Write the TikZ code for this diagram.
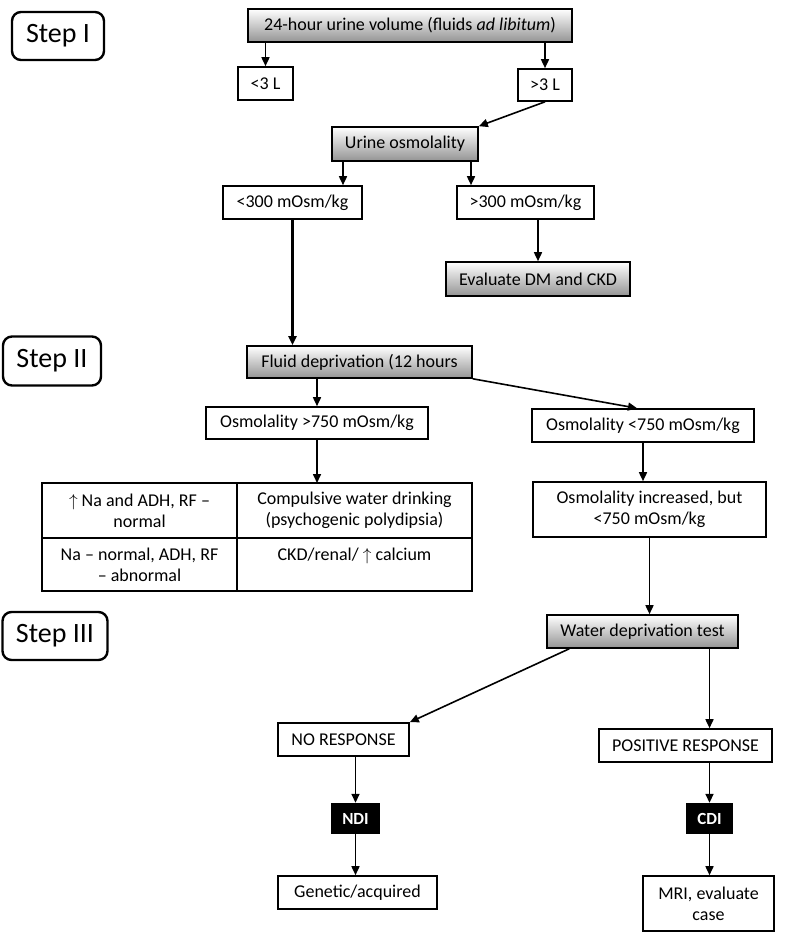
\documentclass[tikz,border=0pt]{standalone}
\usepackage{fontspec}
\setmainfont{Carlito}
\usetikzlibrary{arrows.meta, positioning, calc}

\begin{document}
\begin{tikzpicture}[x=1pt, y=-1pt, >={Triangle[length=9pt, width=8pt]},
    font=\fontsize{18}{21}\selectfont,
    stepbox/.style={rectangle, draw, line width=2.4pt, rounded corners=9pt,
                    font=\fontsize{28}{32}\selectfont, inner sep=0pt},
    whitebox/.style={rectangle, draw, line width=1.6pt, fill=white,
                     inner sep=0pt, align=center},
    graybox/.style={whitebox, top color=white, bottom color=black!42},
    blackbox/.style={rectangle, fill=black, text=white, inner sep=0pt,
                     font=\fontsize{17}{19}\selectfont\bfseries},
    cell/.style={rectangle, draw, line width=1.6pt, inner sep=0pt,
                 outer sep=0pt, align=center},
    arr/.style={->, line width=1.6pt}]

\useasboundingbox (0,0) rectangle (788,941);

% ════════════════════════════════════════
%  Step labels
% ════════════════════════════════════════

\node[stepbox, minimum width=92, minimum height=48] (step1) at (58,36) {Step I};
\node[stepbox, minimum width=98, minimum height=49] (step2) at (52,361) {Step II};
\node[stepbox, minimum width=105, minimum height=48] (step3) at (55,636) {Step III};

% ════════════════════════════════════════
%  STEP I: urine volume and osmolality
% ════════════════════════════════════════

\node[graybox, minimum width=324, minimum height=33] (vol) at (410,25.5)
    {24-hour urine volume (fluids \textit{ad libitum})};

\node[whitebox, minimum width=55, minimum height=33] (lt3) at (265.5,83.5) {<3 L};
\node[whitebox, minimum width=54, minimum height=32] (gt3) at (545,85) {>3 L};

\node[graybox, minimum width=146, minimum height=34] (osm) at (405,144) {Urine osmolality};

\node[whitebox, minimum width=139, minimum height=33] (lt300) at (292.5,202.5) {<300 mOsm/kg};
\node[whitebox, minimum width=137, minimum height=33] (gt300) at (525.5,202.5) {>300 mOsm/kg};

\node[graybox, minimum width=184, minimum height=34] (evdm) at (538,279) {Evaluate DM and CKD};

% Arrows
\draw[arr] (lt3 |- vol.south) -- (lt3.north);
\draw[arr] (gt3 |- vol.south) -- (gt3.north);
\draw[arr] (gt3.south) -- (osm.north east);
\draw[arr] ([xshift=-62]osm.south) -- ([xshift=-62]osm.south |- lt300.north);
\draw[arr] ([xshift=66]osm.south) -- ([xshift=66]osm.south |- gt300.north);
\draw[arr] (evdm |- gt300.south) -- (evdm.north);

% ════════════════════════════════════════
%  STEP II: fluid deprivation
% ════════════════════════════════════════

\node[graybox, minimum width=225, minimum height=32] (fluid) at (359.5,362)
    {Fluid deprivation (12 hours};

\node[whitebox, minimum width=222, minimum height=32] (osmhi) at (317,423)
    {Osmolality >750 mOsm/kg};
\node[whitebox, minimum width=222, minimum height=33] (osmlo) at (643,425.5)
    {Osmolality <750 mOsm/kg};

% Table of causes
\node[cell, minimum width=195, minimum height=55] (c11) at (139.5,510.5)
    {$\uparrow$ Na and ADH, RF --\\normal};
\node[cell, minimum width=235, minimum height=55, right=0pt of c11] (c12)
    {Compulsive water drinking\\(psychogenic polydipsia)};
\node[cell, minimum width=195, minimum height=53, below=0pt of c11] (c21)
    {Na -- normal, ADH, RF\\-- abnormal};
\node[cell, minimum width=235, minimum height=53, right=0pt of c21] (c22)
    {CKD/renal/ $\uparrow$ calcium\\~};

\node[whitebox, minimum width=233, minimum height=55] (osminc) at (649.5,509.5)
    {Osmolality increased, but\\<750 mOsm/kg};

% Arrows
\draw[arr, line width=2.6pt] (lt300.south) -- (lt300 |- fluid.north);
\draw[arr] (osmhi |- fluid.south) -- (osmhi.north);
\draw[arr] (fluid.south east) -- ([xshift=-6]osmlo.north);
\draw[arr] (osmhi.south) -- (osmhi.south |- c12.north);
\draw[arr] (osmlo.south) -- (osmlo.south |- osminc.north);

% ════════════════════════════════════════
%  STEP III: water deprivation test
% ════════════════════════════════════════

\node[graybox, minimum width=191, minimum height=33] (wdt) at (642.5,631.5)
    {Water deprivation test};

\node[whitebox, minimum width=131, minimum height=33] (nores) at (343.5,739.5) {NO RESPONSE};
\node[whitebox, minimum width=173, minimum height=33] (posres) at (685.5,745.5) {POSITIVE RESPONSE};

\node[blackbox, minimum width=49, minimum height=31] (ndi) at (355.5,818.5) {NDI};
\node[blackbox, minimum width=47, minimum height=31] (cdi) at (709.5,818.5) {CDI};

\node[whitebox, minimum width=159, minimum height=33] (gen) at (357.5,892.5) {Genetic/acquired};
\node[whitebox, minimum width=131, minimum height=55] (mri) at (708.5,903.5) {MRI, evaluate\\case};

% Arrows
\draw[arr] (osminc.south) -- (osminc.south |- wdt.north);
\draw[arr] ([xshift=23]wdt.south west) -- (nores.north east);
\draw[arr] (cdi |- wdt.south) -- (cdi |- posres.north);
\draw[arr] (ndi |- nores.south) -- (ndi.north);
\draw[arr] (ndi.south) -- (ndi |- gen.north);
\draw[arr] (cdi |- posres.south) -- (cdi.north);
\draw[arr] (cdi.south) -- (cdi |- mri.north);

\end{tikzpicture}
\end{document}
